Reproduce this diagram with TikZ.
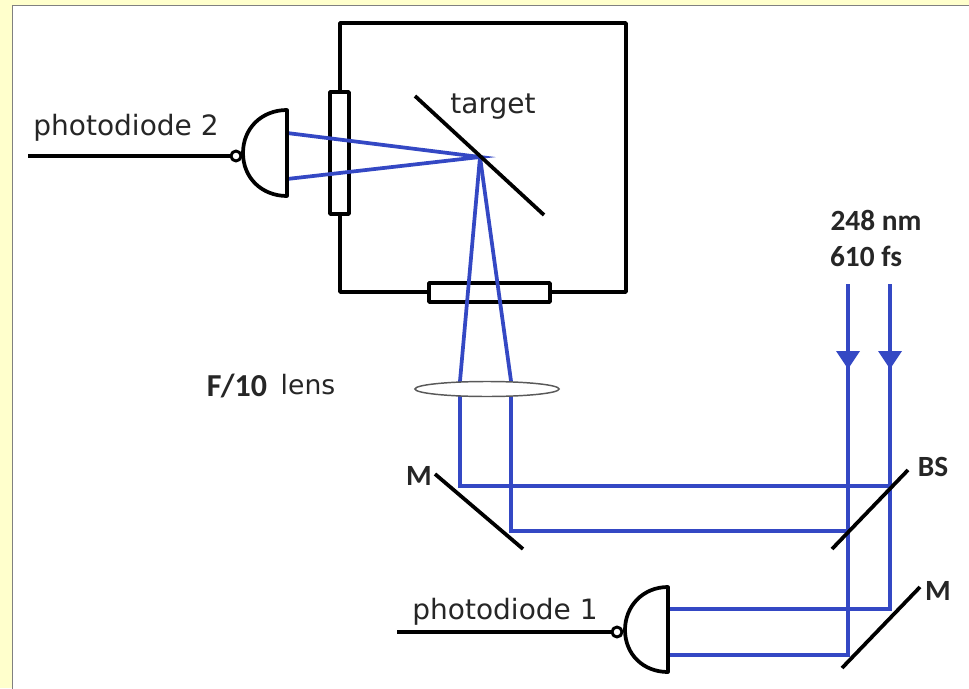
\documentclass[tikz,border=0pt]{standalone}
\usepackage{fontspec}
\setmainfont{Carlito}
\newfontfamily\dejavu{DejaVu Sans}
\tikzset{every picture/.style={line width=0.75pt}}
\definecolor{paper}{RGB}{255,255,204}
\definecolor{beamblue}{RGB}{52,72,196}
\tikzset{
  wall/.style={line width=2.8pt,line join=round},
  window/.style={wall,fill=white},
  mirror/.style={line width=2.8pt},
  beam/.style={color=beamblue,line width=2.8pt},
  thinlabel/.style={font=\dejavu\fontsize{21}{21}\selectfont,text=black!85},
  boldlabel/.style={font=\bfseries\fontsize{22}{22}\selectfont,text=black!85},
}
\begin{document}
\begin{tikzpicture}[x=0.75pt,y=0.75pt,yscale=-1,xscale=1]
		\useasboundingbox (0,0) rectangle (969,688);
		\fill [paper] (0,0) rectangle (969,688);
		\draw [color=gray,fill=white] (12.5,5.5) rectangle (975,695);

		% chamber
		\draw [wall] (340,23) rectangle (626,292);
		\draw [window] (330,92) rectangle (349,214);
		\draw [window] (429,283) rectangle (550,302);

		% beam points
		\coordinate (inA) at (848,284);
		\coordinate (inB) at (890,284);
		\coordinate (bsA) at (848,531);
		\coordinate (bsB) at (890,486);
		\coordinate (mA) at (848,655);
		\coordinate (mB) at (890,609);
		\coordinate (leftA) at (511,531);
		\coordinate (leftB) at (460,486);
		\coordinate (lensA) at (511,381);
		\coordinate (lensB) at (460,381);
		\coordinate (spot) at (480,157);
		\coordinate (pdUp) at (287,133);
		\coordinate (pdDown) at (287,179);
		\coordinate (pdOneUp) at (668,609);
		\coordinate (pdOneDown) at (668,655);

		% beams
		\draw [beam] (inA) -- (mA) -- (pdOneDown);
		\draw [beam] (inB) -- (mB) -- (pdOneUp);
		\draw [beam] (bsB) -- (leftB) -- (lensB) -- (spot);
		\draw [beam] (bsA) -- (leftA) -- (lensA) -- (spot);
		\draw [beam] (pdUp) -- (spot) -- (pdDown);

		% arrow heads
		\fill [beamblue] (836,351) -- (860,351) -- (848,369) -- cycle;
		\fill [beamblue] (878,351) -- (902,351) -- (890,369) -- cycle;

		% lens
		\draw [color=black!65,fill=white,line width=1.1pt] (487,389) ellipse [x radius=72, y radius=7.5];

		% mirrors
		\draw [mirror] (415,96) -- (544,215);
		\draw [mirror] (435,474) -- (523,549);
		\draw [mirror] (832,549) -- (908,470);
		\draw [mirror] (842,668) -- (920,587);

		% photodiodes
		\draw [wall] (287,110) -- (287,196) .. controls (262,196) and (243,178) .. (243,153) .. controls (243,128) and (262,110) .. (287,110) -- cycle;
		\draw [wall] (28,156) -- (230,156);
		\draw [wall,line width=2.2pt] (236,156) circle [radius=5];
		\draw [wall] (668,587) -- (668,672) .. controls (643,672) and (625,654) .. (625,630) .. controls (625,606) and (643,587) .. (668,587) -- cycle;
		\draw [wall] (397,632) -- (611,632);
		\draw [wall,line width=2.2pt] (617,632) circle [radius=5];

		% labels
		\node [thinlabel] (diodeTwo) at (126,128) {photodiode 2};
		\node [thinlabel] (diodeOne) at (505,612) {photodiode 1};
		\node [thinlabel] (targetLabel) at (493,107) {target};
		\node [thinlabel,font=\dejavu\fontsize{20}{20}\selectfont] (lensLabel) at (308,385) {lens};
		\node [boldlabel,font=\bfseries\fontsize{24}{24}\selectfont] (fLabel) at (237,386) {F/10};
		\node [boldlabel] (waveLabel) at (876,220) {248 nm};
		\node [boldlabel] (pulseLabel) at (866,256) {610 fs};
		\node [boldlabel] (mOne) at (419,476) {M};
		\node [boldlabel] (bsLabel) at (933,467) {BS};
		\node [boldlabel] (mTwo) at (938,591) {M};
		\end{tikzpicture}
\end{document}
